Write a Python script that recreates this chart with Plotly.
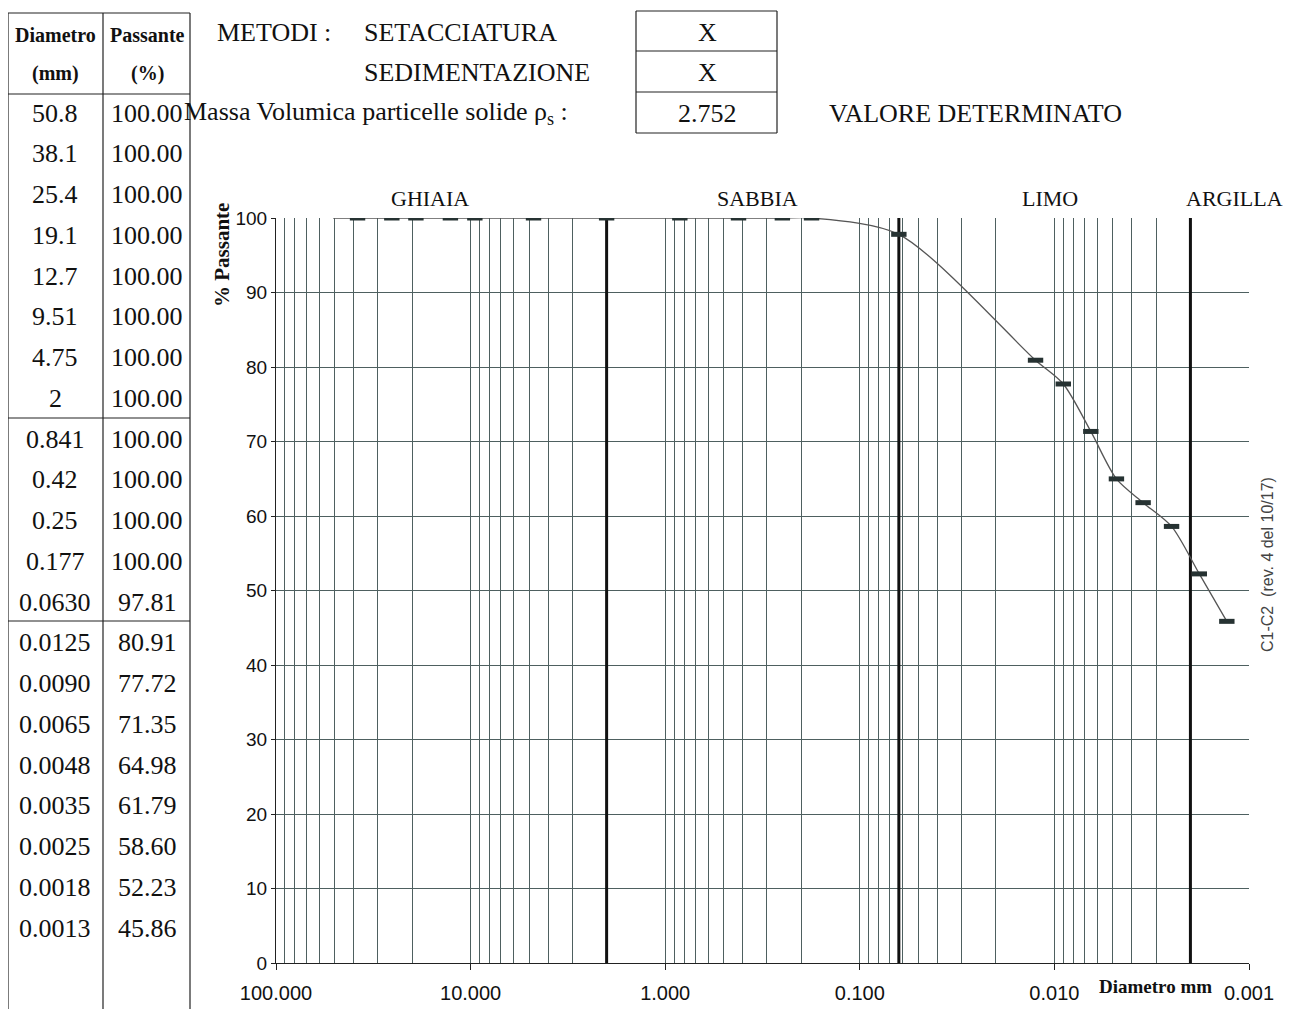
import plotly.graph_objects as go

# analisi granulometrica - setacciatura + sedimentazione
diam_labels = ["50.8", "38.1", "25.4", "19.1", "12.7", "9.51", "4.75", "2",
               "0.841", "0.42", "0.25", "0.177", "0.0630",
               "0.0125", "0.0090", "0.0065", "0.0048", "0.0035", "0.0025", "0.0018", "0.0013"]
passante = [100.00, 100.00, 100.00, 100.00, 100.00, 100.00, 100.00, 100.00,
            100.00, 100.00, 100.00, 100.00, 97.81,
            80.91, 77.72, 71.35, 64.98, 61.79, 58.60, 52.23, 45.86]
diam = [float(d) for d in diam_labels]

# limiti delle classi (mm)
limiti = [2, 0.063, 0.002]
classi = ["GHIAIA", "SABBIA", "LIMO", "ARGILLA"]

tick_vals = [100, 10, 1, 0.1, 0.01, 0.001]
tick_text = ["100.000", "10.000", "1.000", "0.100", "0.010", "0.001"]
minor_vals = [m * 10 ** e for e in range(-3, 2) for m in range(2, 10)]

# la pagina html ha un margine di 8px attorno al grafico
OFF = 8
W, H = 1292, 1017
L, R, T, B = 276, 1249, 218, 963

def px(x):
    return (x - L) / (R - L)

def py(y):
    return (B - y) / (B - T)

SERIF = "Liberation Serif"
SANS = "Liberation Sans"
GRID = "#4e6060"

fig = go.Figure()

# linee di separazione delle classi
for lim in limiti:
    fig.add_trace(go.Scatter(x=[lim, lim], y=[0, 100], mode="lines",
                             line=dict(color="#111", width=3), hoverinfo="skip"))

# curva granulometrica
fig.add_trace(go.Scatter(x=diam, y=passante, mode="lines",
                         line=dict(color="#555", width=1.3, shape="spline", smoothing=0.8)))
fig.add_trace(go.Scatter(x=diam[1:], y=passante[1:], mode="markers",
                         marker=dict(symbol="line-ew", size=11,
                                     line=dict(color="#263232", width=5))))

ann = []
shapes = []

def text(x, y, s, size=26, font=SERIF, anchor="center", color="#111", **kw):
    ann.append(dict(x=px(x), y=py(y), xref="paper", yref="paper", text=s, showarrow=False,
                    xanchor=anchor, yanchor="middle", font=dict(family=font, size=size, color=color), **kw))

def line(x0, y0, x1, y1, w=1.2, c="#222"):
    shapes.append(dict(type="line", xref="paper", yref="paper", x0=px(x0), y0=py(y0),
                       x1=px(x1), y1=py(y1), line=dict(color=c, width=w)))

# tabella a sinistra
text(55, 35, "<b>Diametro</b>", size=20)
text(147, 35, "<b>Passante</b>", size=20)
text(55, 74, "<b>(mm)</b>", size=20)
text(147, 74, "<b>(%)</b>", size=20)
for i, (d, p) in enumerate(zip(diam_labels, passante)):
    yy = 113 + i * 40.75
    text(55, yy, d)
    text(147, yy, "%.2f" % p)
for xx in [8, 103, 190]:
    line(xx, 13, xx, 1009)
line(8, 13, 190, 13)
line(8, 94, 190, 94)
line(8, 418, 190, 418)
line(8, 621, 190, 621)

# intestazione
text(215, 32, "METODI :", anchor="left")
text(362, 32, "SETACCIATURA", anchor="left")
text(362, 73, "SEDIMENTAZIONE", anchor="left")
text(182, 113, "Massa Volumica particelle solide ρ<sub>s</sub> :", anchor="left")
text(707, 32, "X")
text(707, 73, "X")
text(707, 113, "2.752")
text(827, 113, "VALORE DETERMINATO", anchor="left")
for yy in [11, 51, 92, 133]:
    line(636, yy, 777, yy)
line(636, 11, 636, 133)
line(777, 11, 777, 133)

# classi
for x, s in zip([430, 757, 1050, 1234], classi):
    text(x, 198, s, size=22)

text(222, 255, "<b>% Passante</b>", size=21, textangle=-90)
text(1155, 986, "<b>Diametro mm</b>", size=19)
text(1267, 565, "C1-C2  (rev. 4 del 10/17)", size=16, font=SANS, color="#444", textangle=-90)

fig.update_layout(
    width=W - 2 * OFF, height=H - 2 * OFF,
    margin=dict(l=L - OFF, r=W - OFF - R, t=T - OFF, b=H - OFF - B),
    paper_bgcolor="white", plot_bgcolor="white",
    showlegend=False,
    annotations=ann, shapes=shapes,
    xaxis=dict(type="log", range=[2, -3], tickvals=tick_vals, ticktext=tick_text,
               ticks="outside", ticklen=6, tickcolor="#222", ticklabelstandoff=6,
               showgrid=True, gridcolor=GRID, gridwidth=1, automargin=False,
               minor=dict(tickvals=minor_vals, showgrid=True, gridcolor=GRID, gridwidth=1, ticks=""),
               showline=True, linecolor="#222", linewidth=1, zeroline=False,
               tickfont=dict(family=SANS, size=20, color="#111")),
    yaxis=dict(range=[0, 100], dtick=10, ticks="outside", ticklen=4, tickcolor="#222",
               showgrid=True, gridcolor=GRID, gridwidth=1, automargin=False,
               showline=True, linecolor="#222", linewidth=1, zeroline=False,
               tickfont=dict(family=SANS, size=19, color="#111")),
)

fig.write_html("out.html")
